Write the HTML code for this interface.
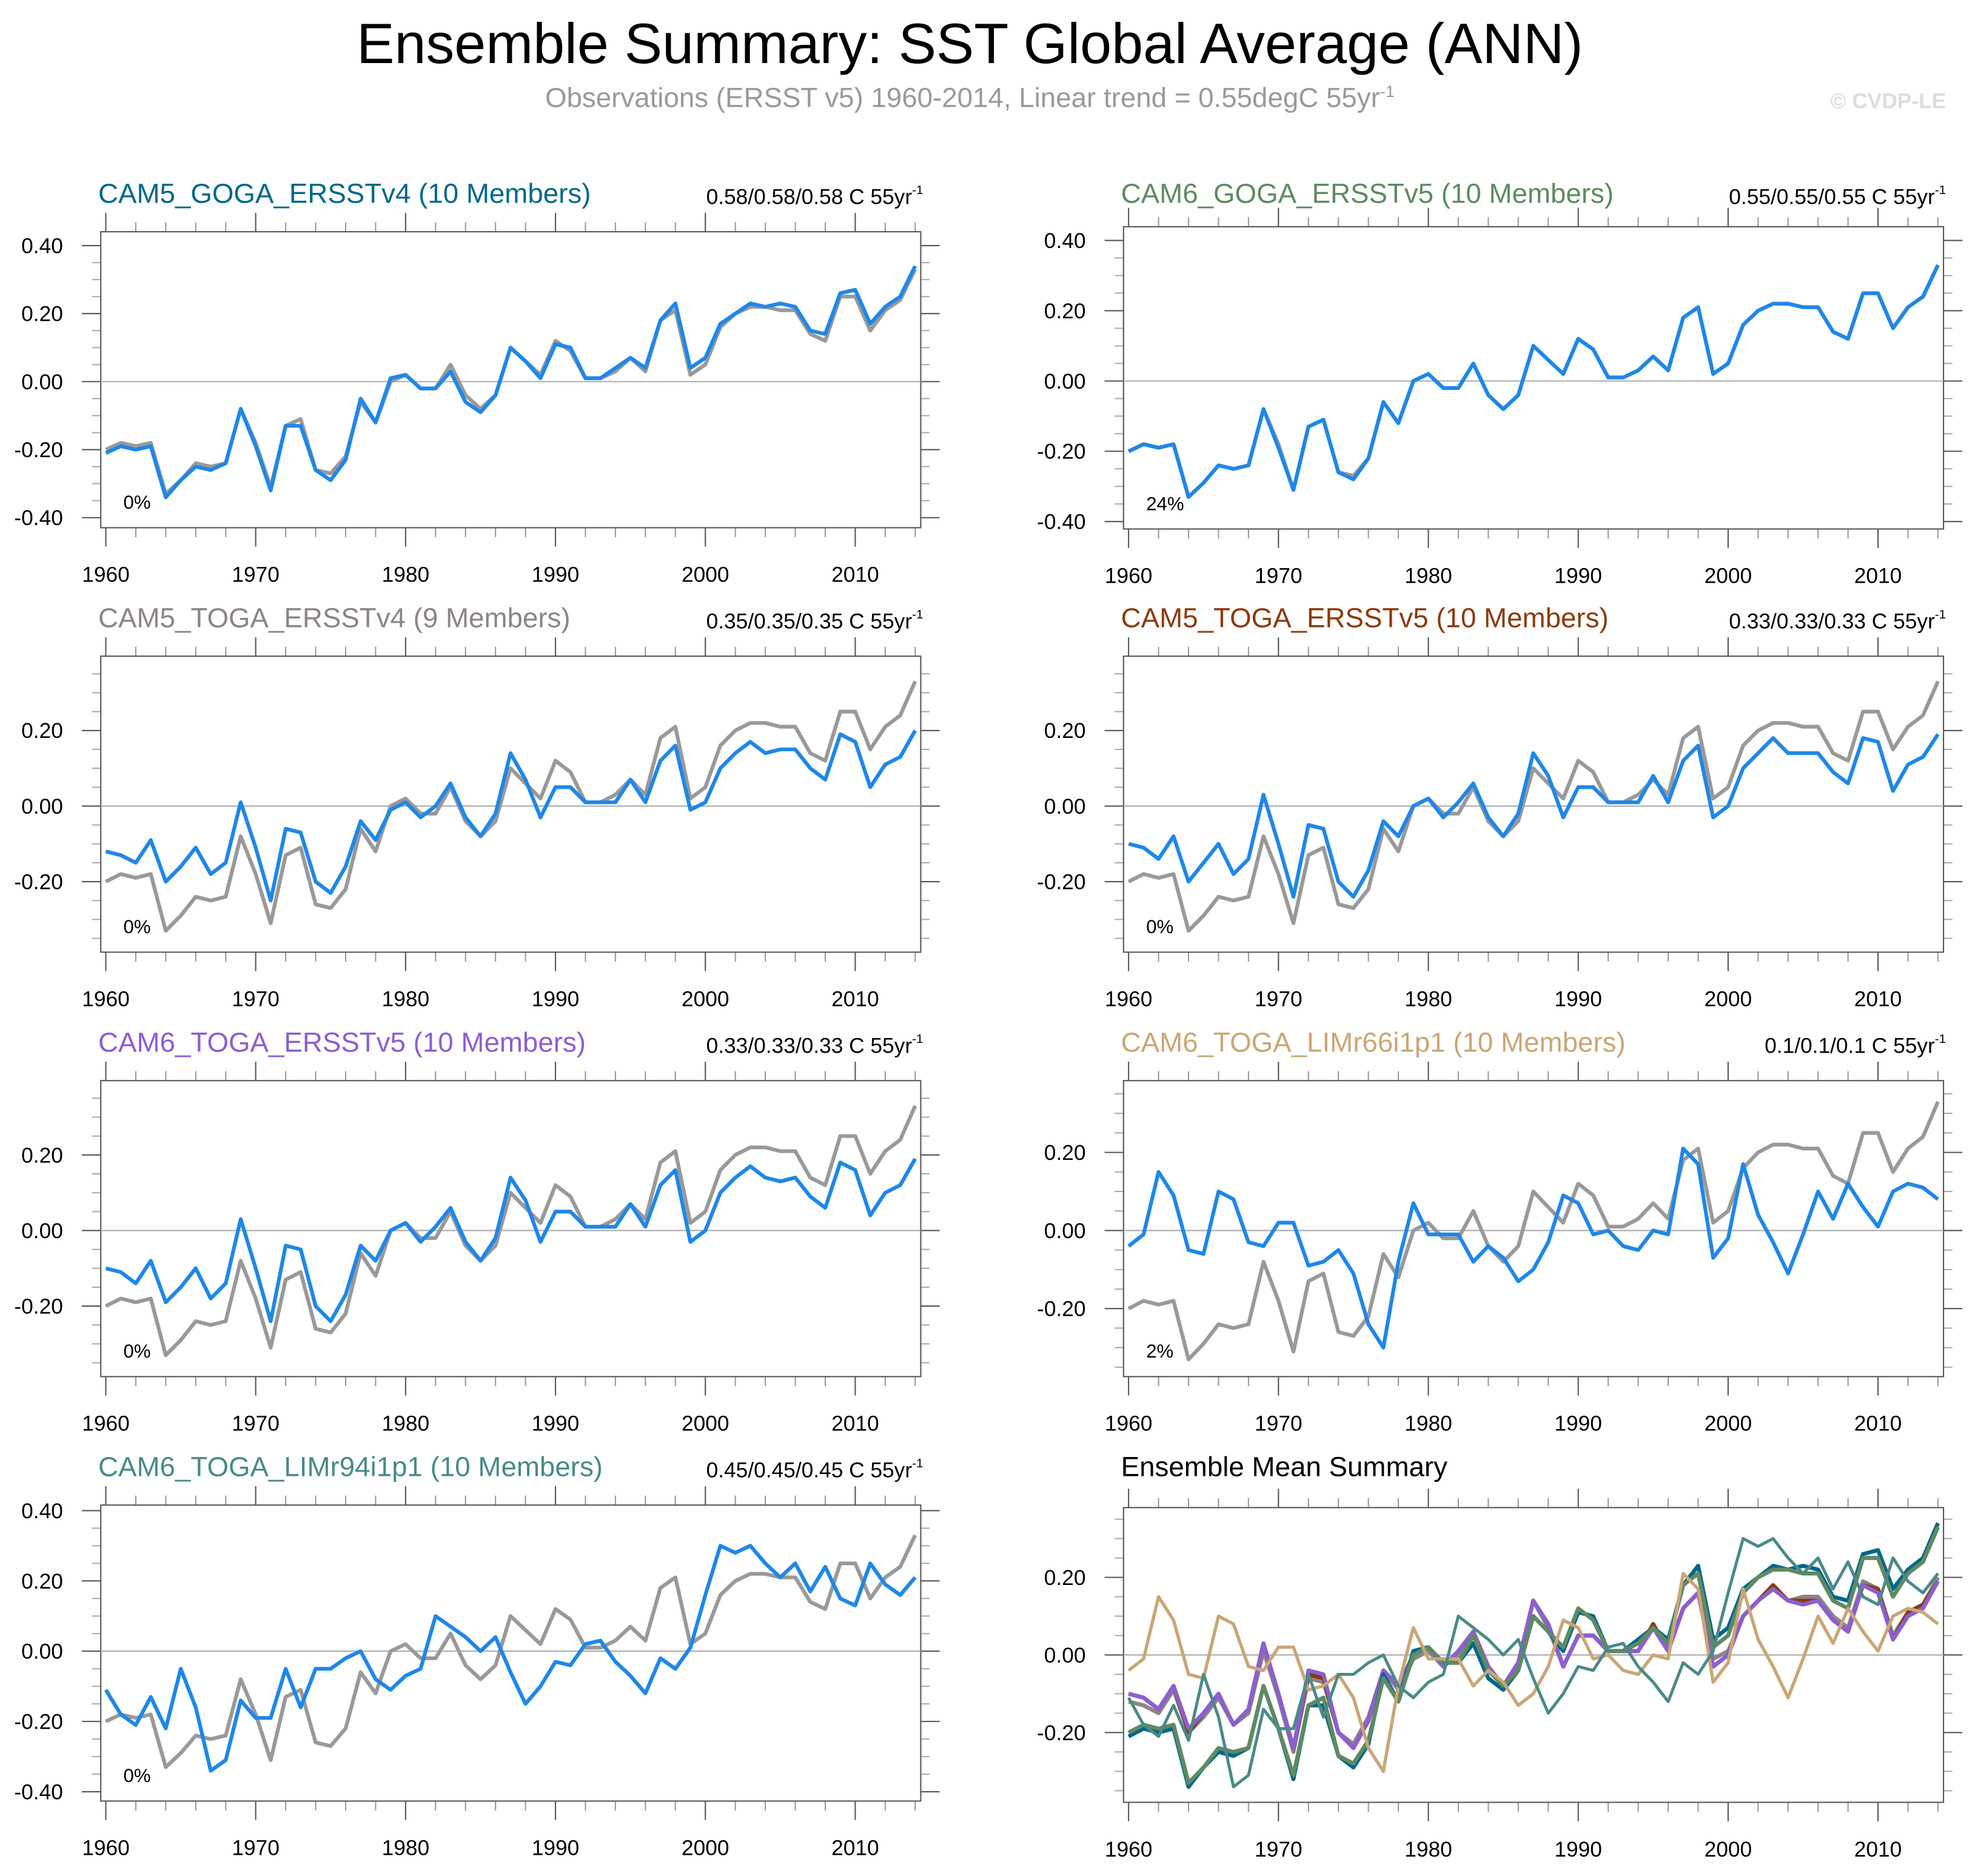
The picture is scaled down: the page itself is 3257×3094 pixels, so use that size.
<!DOCTYPE html>
<html><head><meta charset="utf-8">
<style>
html,body{margin:0;padding:0;background:#fff;}
svg{display:block;font-family:"Liberation Sans",sans-serif;}
</style></head>
<body>
<svg id="chart" width="3257" height="3094" viewBox="0 0 1568 1489.5" preserveAspectRatio="none" xmlns="http://www.w3.org/2000/svg">
<text x="770" y="50" font-size="45" text-anchor="middle" fill="#000">Ensemble Summary: SST Global Average (ANN)</text>
<text x="770" y="85" font-size="22" text-anchor="middle" fill="#999">Observations (ERSST v5) 1960-2014, Linear trend = 0.55degC 55yr<tspan dy="-8" font-size="13">-1</tspan></text>
<text x="1545" y="86" font-size="17" font-weight="bold" text-anchor="end" fill="#ddd">© CVDP-LE</text>
</svg>
<script>
const years = [];
for (let y = 1960; y <= 2014; y++) years.push(y);
const obs = [-0.20,-0.18,-0.19,-0.18,-0.33,-0.29,-0.24,-0.25,-0.24,-0.08,-0.18,-0.31,-0.13,-0.11,-0.26,-0.27,-0.22,-0.06,-0.12,0.00,0.02,-0.02,-0.02,0.05,-0.04,-0.08,-0.04,0.10,0.06,0.02,0.12,0.09,0.01,0.01,0.03,0.07,0.03,0.18,0.21,0.02,0.05,0.16,0.20,0.22,0.22,0.21,0.21,0.14,0.12,0.25,0.25,0.15,0.21,0.24,0.33];
const cam5GogaV4 = [-0.21,-0.19,-0.20,-0.19,-0.34,-0.29,-0.25,-0.26,-0.24,-0.08,-0.19,-0.32,-0.13,-0.13,-0.26,-0.29,-0.23,-0.05,-0.12,0.01,0.02,-0.02,-0.02,0.03,-0.06,-0.09,-0.04,0.10,0.06,0.01,0.11,0.10,0.01,0.01,0.04,0.07,0.04,0.18,0.23,0.04,0.07,0.17,0.20,0.23,0.22,0.23,0.22,0.15,0.14,0.26,0.27,0.17,0.22,0.25,0.34];
const cam6GogaV5 = [-0.20,-0.18,-0.19,-0.18,-0.33,-0.29,-0.24,-0.25,-0.24,-0.08,-0.19,-0.31,-0.13,-0.11,-0.26,-0.28,-0.22,-0.06,-0.12,0.00,0.02,-0.02,-0.02,0.05,-0.04,-0.08,-0.04,0.10,0.06,0.02,0.12,0.09,0.01,0.01,0.03,0.07,0.03,0.18,0.21,0.02,0.05,0.16,0.20,0.22,0.22,0.21,0.21,0.14,0.12,0.25,0.25,0.15,0.21,0.24,0.33];
const cam5TogaV4 = [-0.12,-0.13,-0.15,-0.09,-0.20,-0.16,-0.11,-0.18,-0.15,0.01,-0.11,-0.25,-0.06,-0.07,-0.20,-0.23,-0.16,-0.04,-0.09,-0.01,0.01,-0.03,0.00,0.06,-0.03,-0.08,-0.02,0.14,0.07,-0.03,0.05,0.05,0.01,0.01,0.01,0.07,0.01,0.12,0.16,-0.01,0.01,0.10,0.14,0.17,0.14,0.15,0.15,0.10,0.07,0.19,0.17,0.05,0.11,0.13,0.20];
const cam5TogaV5 = [-0.10,-0.11,-0.14,-0.08,-0.20,-0.15,-0.10,-0.18,-0.14,0.03,-0.10,-0.24,-0.05,-0.06,-0.20,-0.24,-0.17,-0.04,-0.08,0.00,0.02,-0.03,0.01,0.06,-0.03,-0.08,-0.02,0.14,0.08,-0.03,0.05,0.05,0.01,0.01,0.01,0.08,0.01,0.12,0.16,-0.03,0.00,0.10,0.14,0.18,0.14,0.14,0.14,0.09,0.06,0.18,0.17,0.04,0.11,0.13,0.19];
const cam6TogaV5 = [-0.10,-0.11,-0.14,-0.08,-0.19,-0.15,-0.10,-0.18,-0.14,0.03,-0.10,-0.24,-0.04,-0.05,-0.20,-0.24,-0.17,-0.04,-0.08,0.00,0.02,-0.03,0.01,0.06,-0.03,-0.08,-0.02,0.14,0.08,-0.03,0.05,0.05,0.01,0.01,0.01,0.07,0.01,0.12,0.16,-0.03,0.00,0.10,0.14,0.17,0.14,0.13,0.14,0.09,0.06,0.18,0.16,0.04,0.10,0.12,0.19];
const limR66 = [-0.04,-0.01,0.15,0.09,-0.05,-0.06,0.10,0.08,-0.03,-0.04,0.02,0.02,-0.09,-0.08,-0.05,-0.11,-0.24,-0.30,-0.08,0.07,-0.01,-0.01,-0.01,-0.08,-0.04,-0.07,-0.13,-0.10,-0.03,0.09,0.07,-0.01,0.00,-0.04,-0.05,0.00,-0.01,0.21,0.17,-0.07,-0.02,0.17,0.04,-0.03,-0.11,-0.01,0.10,0.03,0.12,0.06,0.01,0.10,0.12,0.11,0.08];
const limR94 = [-0.11,-0.18,-0.21,-0.13,-0.22,-0.05,-0.16,-0.34,-0.31,-0.14,-0.19,-0.19,-0.05,-0.16,-0.05,-0.05,-0.02,0.00,-0.08,-0.11,-0.07,-0.05,0.10,0.07,0.04,0.00,0.04,-0.06,-0.15,-0.10,-0.03,-0.04,0.02,0.03,-0.03,-0.07,-0.12,-0.02,-0.05,0.01,0.16,0.30,0.28,0.30,0.25,0.21,0.25,0.17,0.24,0.15,0.13,0.25,0.19,0.16,0.21];
const yearTicks = [1960,1970,1980,1990,2000,2010];
const ticks4 = [0.40,0.20,0.00,-0.20,-0.40];
const ticks2 = [0.20,0.00,-0.20];

const NS = "http://www.w3.org/2000/svg";
const svg = document.getElementById('chart');
function mk(tag, attrs, parent) {
  const e = document.createElementNS(NS, tag);
  for (const k in attrs) e.setAttribute(k, attrs[k]);
  (parent || svg).appendChild(e);
  return e;
}
const panels = [
  {name:'cam5-goga-ersstv4', title:'CAM5_GOGA_ERSSTv4 (10 Members)', color:'#00678a', trend:'0.58/0.58/0.58 C 55yr', pct:'0%', x0:80, x1:731, top:184, bot:419, ty:153, y0:303, k:270, ticks:ticks4, series:cam5GogaV4},
  {name:'cam6-goga-ersstv5', title:'CAM6_GOGA_ERSSTv5 (10 Members)', color:'#5f8a62', trend:'0.55/0.55/0.55 C 55yr', pct:'24%', x0:892, x1:1543, top:180, bot:420, ty:153, y0:302.5, k:279, ticks:ticks4, series:cam6GogaV5},
  {name:'cam5-toga-ersstv4', title:'CAM5_TOGA_ERSSTv4 (9 Members)', color:'#8c8585', trend:'0.35/0.35/0.35 C 55yr', pct:'0%', x0:80, x1:731, top:521, bot:756, ty:490, y0:640, k:300, ticks:ticks2, series:cam5TogaV4},
  {name:'cam5-toga-ersstv5', title:'CAM5_TOGA_ERSSTv5 (10 Members)', color:'#8b3a0e', trend:'0.33/0.33/0.33 C 55yr', pct:'0%', x0:892, x1:1543, top:521, bot:756, ty:490, y0:640, k:300, ticks:ticks2, series:cam5TogaV5},
  {name:'cam6-toga-ersstv5', title:'CAM6_TOGA_ERSSTv5 (10 Members)', color:'#8b5fd0', trend:'0.33/0.33/0.33 C 55yr', pct:'0%', x0:80, x1:731, top:858, bot:1093, ty:827, y0:977, k:300, ticks:ticks2, series:cam6TogaV5},
  {name:'cam6-toga-limr66', title:'CAM6_TOGA_LIMr66i1p1 (10 Members)', color:'#c9a677', trend:'0.1/0.1/0.1 C 55yr', pct:'2%', x0:892, x1:1543, top:858, bot:1093, ty:827, y0:977, k:310, ticks:ticks2, series:limR66},
  {name:'cam6-toga-limr94', title:'CAM6_TOGA_LIMr94i1p1 (10 Members)', color:'#4a8a86', trend:'0.45/0.45/0.45 C 55yr', pct:'0%', x0:80, x1:731, top:1195, bot:1430, ty:1164, y0:1311, k:279, ticks:ticks4, series:limR94},
  {name:'ensemble-mean-summary', title:'Ensemble Mean Summary', color:'#000', trend:null, pct:null, x0:892, x1:1543, top:1197, bot:1431, ty:1164, y0:1314, k:308, ticks:ticks2, series:null}
];
const summarySeries = [
  {name:'cam5-toga-ersstv4', data:cam5TogaV4, color:'#8c8585', w:3.2},
  {name:'cam5-toga-ersstv5', data:cam5TogaV5, color:'#8b3a0e', w:3.2},
  {name:'cam6-toga-ersstv5', data:cam6TogaV5, color:'#8b5fd0', w:3.2},
  {name:'cam5-goga-ersstv4', data:cam5GogaV4, color:'#00678a', w:3.2},
  {name:'cam6-goga-ersstv5', data:cam6GogaV5, color:'#5f8a62', w:3.2},
  {name:'cam6-toga-limr66', data:limR66, color:'#c9a677', w:2.6},
  {name:'cam6-toga-limr94', data:limR94, color:'#4a8a86', w:2.4}
];

panels.forEach(p => {
  const g = mk('g', {});
  
  
  const xs = yr => p.x0 + 4 + (yr - 1960) * 11.9;
  const ys = v => p.y0 - v * p.k;
  const t = mk('text', {x: p.x0 - 2, y: p.ty + 8, 'font-size': 22, fill: p.color}, g);
  t.textContent = p.title;
  
  
  if (p.trend) {
    const tr = mk('text', {x: p.x1 + 2, y: p.ty + 9, 'font-size': 17, 'text-anchor': 'end', fill: '#000'}, g);
    tr.textContent = p.trend;
    const sup = mk('tspan', {dy: -8, 'font-size': 10}, tr);
    sup.textContent = '-1';
    
    
  }
  for (let yr = 1960; yr <= 2014; yr += 2) {
    const major = yr % 10 === 0;
    const len = major ? 15 : 7.5;
    const col = major ? '#555' : '#999';
    mk('line', {x1: xs(yr), x2: xs(yr), y1: p.top, y2: p.top - len, stroke: col, 'stroke-width': 1}, g);
    mk('line', {x1: xs(yr), x2: xs(yr), y1: p.bot, y2: p.bot + len, stroke: col, 'stroke-width': 1}, g);
  }
  yearTicks.forEach(yr => {
    const l = mk('text', {x: xs(yr), y: p.bot + 43, 'font-size': 17, 'text-anchor': 'middle', fill: '#000'}, g);
    l.textContent = yr;
    
    
  });
  for (let i = -20; i <= 20; i++) {
    const v = i * 0.05;
    const y = ys(v);
    if (y < p.top + 1 || y > p.bot - 1) continue;
    const major = Math.abs(i) % 4 === 0;
    const len = major ? 15 : 7;
    const col = major ? '#555' : '#aaa';
    mk('line', {x1: p.x0, x2: p.x0 - len, y1: y, y2: y, stroke: col, 'stroke-width': 1}, g);
    mk('line', {x1: p.x1, x2: p.x1 + len, y1: y, y2: y, stroke: col, 'stroke-width': 1}, g);
  }
  p.ticks.forEach(v => {
    const l = mk('text', {x: p.x0 - 30, y: ys(v) + 6, 'font-size': 17, 'text-anchor': 'end', fill: '#000'}, g);
    l.textContent = v.toFixed(2);
    
    
  });
  const box = mk('rect', {x: p.x0, y: p.top, width: p.x1 - p.x0, height: p.bot - p.top, fill: 'none', stroke: '#555', 'stroke-width': 1}, g);
  
  
  mk('line', {x1: p.x0, x2: p.x1, y1: ys(0), y2: ys(0), stroke: '#aaa', 'stroke-width': 1}, g);
  const path = arr => arr.map((v, i) => (i ? 'L' : 'M') + xs(years[i]).toFixed(1) + ',' + ys(v).toFixed(1)).join(' ');
  if (p.series) {
    const o = mk('path', {d: path(obs), fill: 'none', stroke: '#999', 'stroke-width': 3, 'stroke-linejoin': 'round'}, g);
    
    
    const m = mk('path', {d: path(p.series), fill: 'none', stroke: '#1f87e8', 'stroke-width': 3, 'stroke-linejoin': 'round'}, g);
    
    
    const pc = mk('text', {x: p.x0 + 18, y: p.bot - 15, 'font-size': 15, fill: '#000'}, g);
    pc.textContent = p.pct;
    
    
  } else {
    summarySeries.forEach(s => {
      const l = mk('path', {d: path(s.data), fill: 'none', stroke: s.color, 'stroke-width': s.w, 'stroke-linejoin': 'round'}, g);
      
      
    });
  }
});
</script>
</body></html>
